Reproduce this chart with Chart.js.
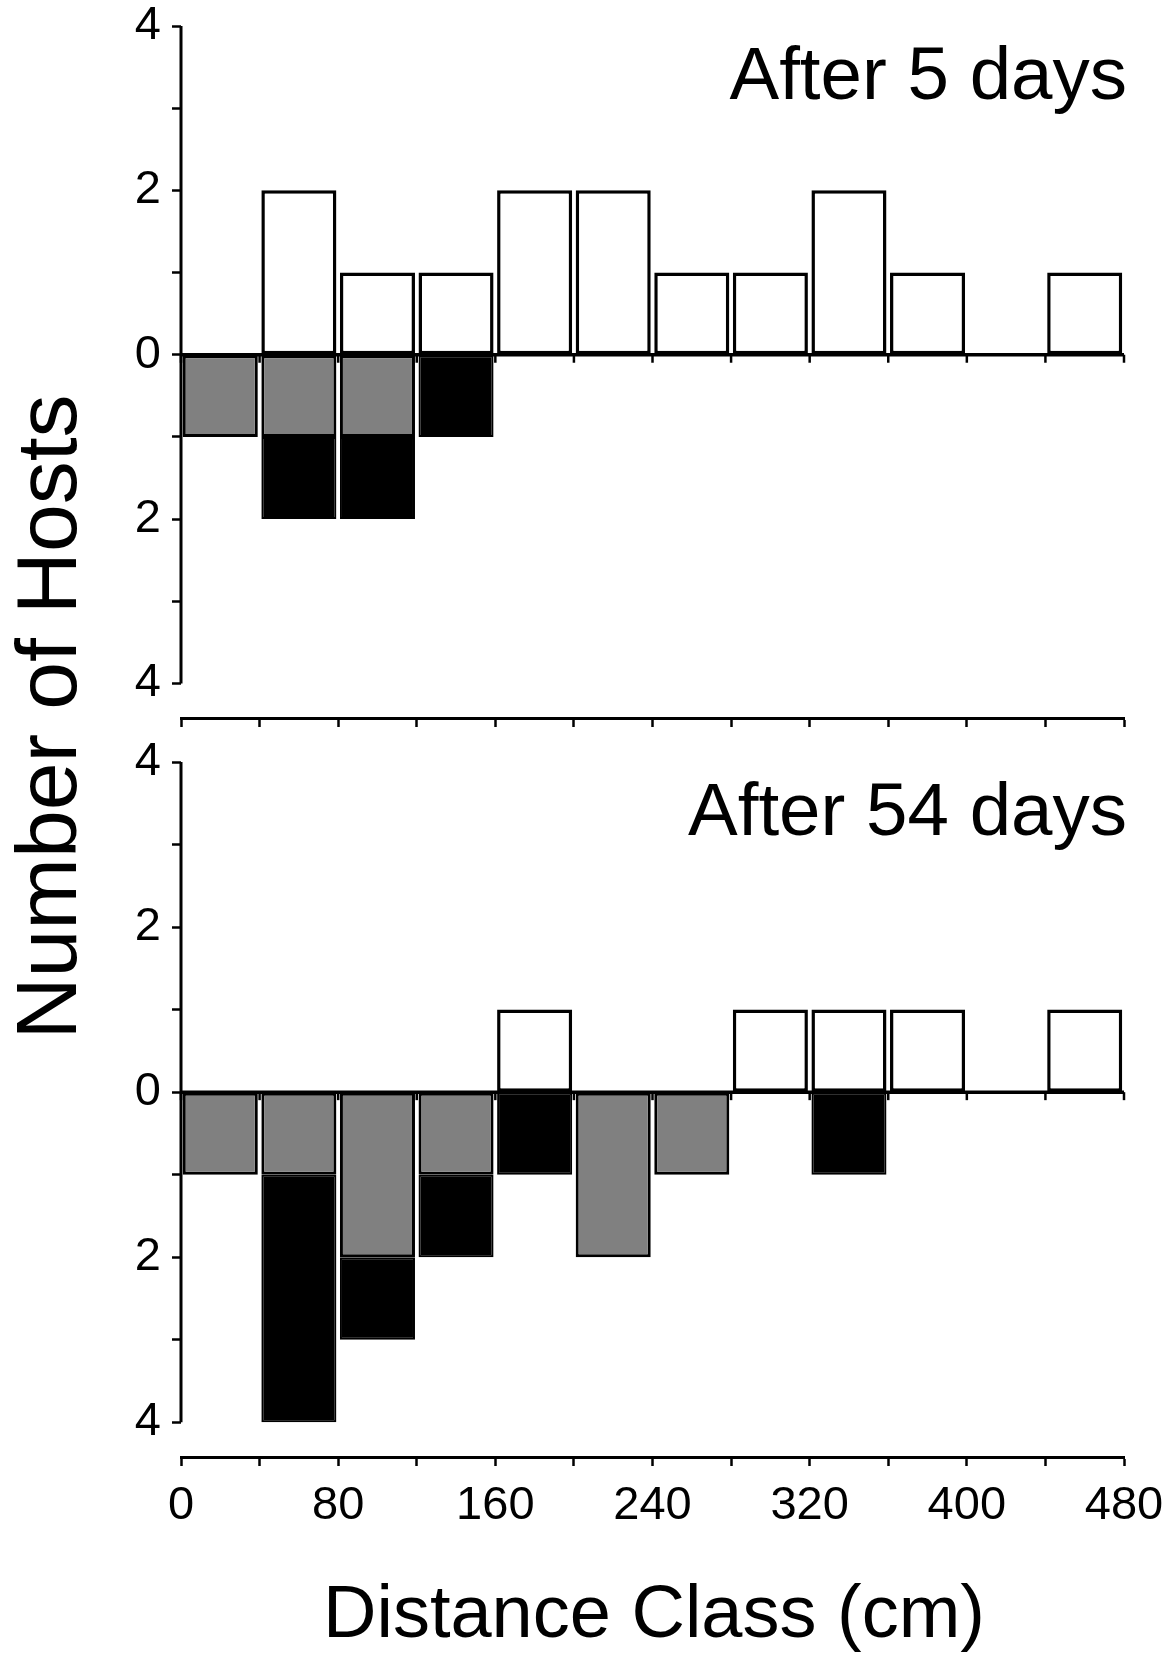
<!DOCTYPE html>
<html>
<head>
<meta charset="utf-8">
<title>Number of Hosts by Distance Class</title>
<script src="https://cdn.jsdelivr.net/npm/chart.js@4.4.1/dist/chart.umd.min.js"></script>
<style>
  html, body { margin: 0; padding: 0; background: #fff; }
  body {
    width: 1170px; height: 1654px; position: relative; overflow: hidden;
    font-family: 'Liberation Sans', Arial, sans-serif; color: #000;
  }
  canvas { position: absolute; left: 0; }
  #top-chart { top: -20px; }
  #bottom-chart { top: 720px; }
  .label { position: absolute; white-space: nowrap; line-height: 1; }
  .panel-title { font-size: 74.5px; right: 43px; }
  #title-5 { top: 37px; }
  #title-54 { top: 773px; }
  #x-title { font-size: 74px; left: 154px; width: 1000px; text-align: center; top: 1575px; }
  #y-title {
    font-size: 86px; width: 800px; height: 86px; text-align: center;
    left: -354px; top: 674px; transform: rotate(-90deg);
  }
</style>
</head>
<body>
<canvas id="top-chart" width="1220" height="800"></canvas>
<canvas id="bottom-chart" width="1220" height="934"></canvas>
<div class="label panel-title" id="title-5">After 5 days</div>
<div class="label panel-title" id="title-54">After 54 days</div>
<div class="label" id="x-title">Distance Class (cm)</div>
<div class="label" id="y-title">Number of Hosts</div>

<script>
// Distance classes, 40 cm each
const distanceClasses = ['0-40', '40-80', '80-120', '120-160', '160-200', '200-240',
                         '240-280', '280-320', '320-360', '360-400', '400-440', '440-480'];
const xTickLabels = [0, 80, 160, 240, 320, 400, 480];
const yTickValues = [-4, -3, -2, -1, 0, 1, 2, 3, 4];

// After 5 days (counts; grey and black are drawn below zero)
const day5White = [0, 2, 1, 1, 2, 2, 1, 1, 2, 1, 0, 1];
const day5Grey  = [1, 1, 1, 0, 0, 0, 0, 0, 0, 0, 0, 0];
const day5Black = [0, 1, 1, 1, 0, 0, 0, 0, 0, 0, 0, 0];

// After 54 days
const day54White = [0, 0, 0, 0, 1, 0, 0, 1, 1, 1, 0, 1];
const day54Grey  = [1, 1, 2, 1, 0, 2, 1, 0, 0, 0, 0, 0];
const day54Black = [0, 3, 1, 1, 1, 0, 0, 0, 1, 0, 0, 0];

const Y_MAX = 4;
const Y_MIN = -4.42;   // a little room under the -4 tick before the x axis

Chart.defaults.font.family = "'Liberation Sans', Arial, sans-serif";
Chart.defaults.color = '#000';

// Zero line with its small ticks, and the vertical axis from 4 to 4
const axisLinesPlugin = {
    id: 'axisLines',
    afterDatasetsDraw(chart) {
        const { ctx, chartArea, scales } = chart;
        const y = scales.y;
        const x = scales.x2;
        const y0 = y.getPixelForValue(0);

        ctx.save();
        ctx.strokeStyle = '#000';
        ctx.lineWidth = 3.5;
        ctx.beginPath();
        ctx.moveTo(chartArea.left, y0);
        ctx.lineTo(chartArea.right, y0);
        ctx.stroke();

        ctx.lineWidth = 2.5;
        x.ticks.forEach(t => {
            const px = x.getPixelForValue(t.value);
            ctx.beginPath();
            ctx.moveTo(px, y0);
            ctx.lineTo(px, y0 + 8);
            ctx.stroke();
        });

        ctx.lineWidth = 3;
        ctx.beginPath();
        ctx.moveTo(chartArea.left, y.getPixelForValue(Y_MAX));
        ctx.lineTo(chartArea.left, y.getPixelForValue(-Y_MAX));
        ctx.stroke();
        ctx.restore();
    }
};

function makePanel(canvasId, white, grey, black, opts) {
    const ctx = document.getElementById(canvasId);
    return new Chart(ctx, {
        type: 'bar',
        data: {
            labels: distanceClasses,
            datasets: [
                {
                    data: white,
                    backgroundColor: '#FFFFFF',
                    borderColor: '#000000',
                    borderWidth: 3.5,
                    borderSkipped: false
                },
                {
                    data: grey.map(v => -v),
                    backgroundColor: '#808080',
                    borderColor: '#000000',
                    borderWidth: 3,
                    borderSkipped: false
                },
                {
                    data: black.map(v => -v),
                    backgroundColor: '#000000',
                    borderColor: '#000000',
                    borderWidth: 2,
                    borderSkipped: false
                }
            ]
        },
        options: {
            responsive: false,
            animation: false,
            events: [],
            layout: {
                padding: { top: opts.padTop, right: 96, left: 0, bottom: 0 }
            },
            datasets: {
                bar: { barPercentage: 0.955, categoryPercentage: 1.0 }
            },
            plugins: {
                legend: { display: false },
                tooltip: { enabled: false }
            },
            scales: {
                x: {
                    type: 'category',
                    display: false,
                    stacked: true
                },
                x2: {
                    type: 'linear',
                    position: 'bottom',
                    min: 0,
                    max: 480,
                    offset: false,
                    border: { display: true, color: '#000', width: 3 },
                    grid: {
                        offset: false,
                        drawOnChartArea: false,
                        drawTicks: true,
                        tickLength: 9,
                        tickWidth: 2.5,
                        tickColor: '#000'
                    },
                    ticks: {
                        display: opts.showXLabels,
                        stepSize: 40,
                        maxTicksLimit: 13,
                        autoSkip: false,
                        maxRotation: 0,
                        padding: 12,
                        font: { size: 47 },
                        callback: v => xTickLabels.includes(v) ? String(v) : ''
                    },
                    afterFit(scale) { scale.height = opts.xAxisHeight; }
                },
                y: {
                    stacked: true,
                    min: Y_MIN,
                    max: Y_MAX,
                    border: { display: false },
                    grid: {
                        drawOnChartArea: false,
                        drawTicks: true,
                        tickLength: 9,
                        tickWidth: 2.5,
                        tickColor: '#000'
                    },
                    ticks: {
                        padding: 11,
                        font: { size: 47 },
                        callback: v => (v % 2 === 0 ? String(Math.abs(v)) : '')
                    },
                    afterBuildTicks(scale) {
                        scale.ticks = yTickValues.map(v => ({ value: v }));
                    },
                    afterFit(scale) { scale.width = 181; }
                }
            }
        },
        plugins: [axisLinesPlugin]
    });
}

makePanel('top-chart', day5White, day5Grey, day5Black,
          { padTop: 46, xAxisHeight: 62, showXLabels: false });
makePanel('bottom-chart', day54White, day54Grey, day54Black,
          { padTop: 42, xAxisHeight: 197, showXLabels: true });
</script>
</body>
</html>
